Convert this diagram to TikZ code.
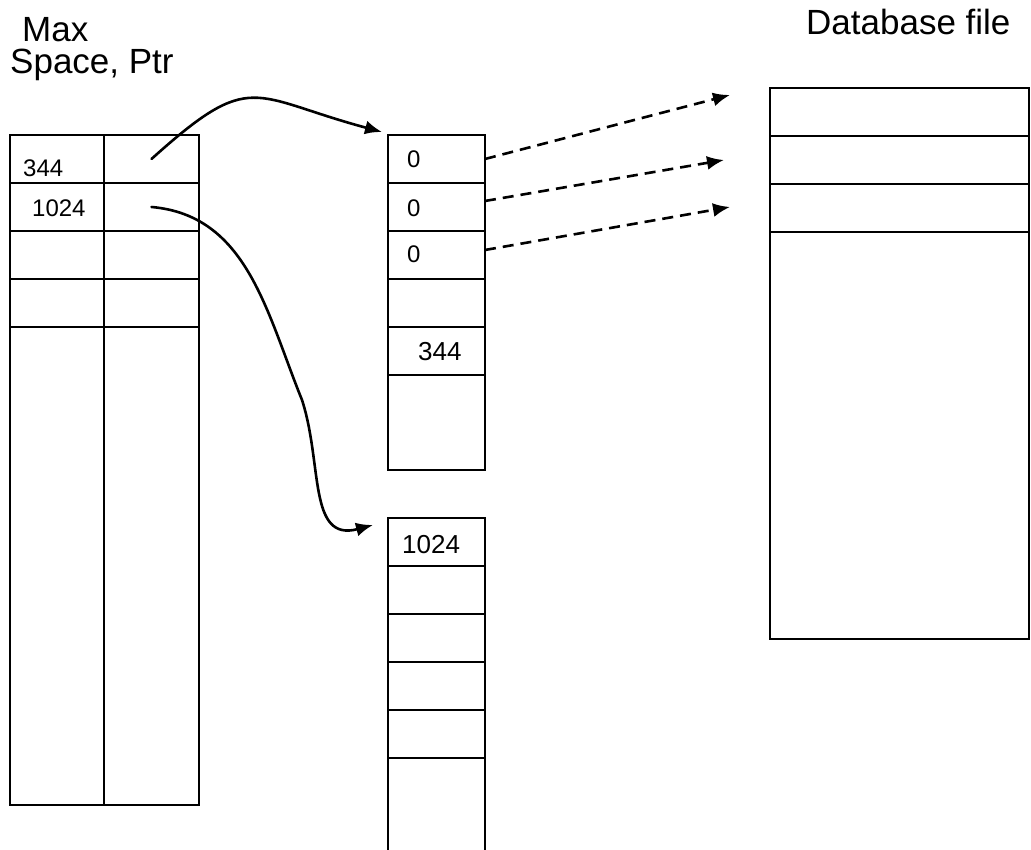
\documentclass[tikz,border=0pt]{standalone}
\usepackage{fontspec}
\setmainfont{Liberation Sans}
\usetikzlibrary{positioning, calc, arrows.meta}

\begin{document}
\begin{tikzpicture}[
    x=1pt, y=1pt,
    node distance=0pt,
    cell/.style={draw, line width=2.8pt, minimum width=95pt, minimum height=48pt, inner sep=0pt, outer sep=0pt},
    num/.style={font=\fontsize{24}{26}\selectfont, inner sep=0pt, anchor=base west},
    bignum/.style={num, font=\fontsize{26}{28}\selectfont},
    head/.style={font=\fontsize{35}{38}\selectfont, inner sep=0pt, anchor=base west},
    link/.style={line width=2.6pt, line cap=round, -{Latex[length=17pt, width=14pt]}},
    ref/.style={link, line cap=butt, dash pattern=on 11pt off 7pt}
]
\useasboundingbox (0,0) rectangle (1031,850);

\node[head] (max) at (22,808) {Max};
\node[head] (spaceptr) at (10,776) {Space, Ptr};
\node[head] (dbfile) at (806,815) {Database file};

% Max Space / Ptr table
\node[cell, minimum width=94pt, anchor=north west] (La1) at (10,715) {};
\node[cell, minimum width=94pt, below=of La1] (La2) {};
\node[cell, minimum width=94pt, below=of La2] (La3) {};
\node[cell, minimum width=94pt, below=of La3] (La4) {};
\node[cell, minimum width=94pt, minimum height=478pt, below=of La4] (La5) {};
\node[cell, right=of La1] (Lb1) {};
\node[cell, right=of La2] (Lb2) {};
\node[cell, right=of La3] (Lb3) {};
\node[cell, right=of La4] (Lb4) {};
\node[cell, minimum height=478pt, right=of La5] (Lb5) {};

\node[num] (k344) at ($(La1.north west)+(13,-42)$) {344};
\node[num] (k1024) at ($(La2.north west)+(22,-34)$) {1024};

% page at 344
\node[cell, minimum width=97pt, anchor=north west] (M1) at (388,715) {};
\node[cell, minimum width=97pt, below=of M1] (M2) {};
\node[cell, minimum width=97pt, below=of M2] (M3) {};
\node[cell, minimum width=97pt, below=of M3] (M4) {};
\node[cell, minimum width=97pt, below=of M4] (M5) {};
\node[cell, minimum width=97pt, minimum height=95pt, below=of M5] (M6) {};

\node[num] (z1) at ($(M1.north west)+(19,-33)$) {0};
\node[num] (z2) at ($(M2.north west)+(19,-34)$) {0};
\node[num] (z3) at ($(M3.north west)+(19,-32)$) {0};
\node[bignum] (s344) at ($(M5.north west)+(30,-34)$) {344};

% page at 1024
\node[cell, minimum width=97pt, anchor=north west] (W1) at (388,332) {};
\node[cell, minimum width=97pt, below=of W1] (W2) {};
\node[cell, minimum width=97pt, below=of W2] (W3) {};
\node[cell, minimum width=97pt, below=of W3] (W4) {};
\node[cell, minimum width=97pt, below=of W4] (W5) {};
\node[cell, minimum width=97pt, minimum height=120pt, below=of W5] (W6) {};

\node[bignum] (s1024) at ($(W1.north west)+(14,-36)$) {1024};

% database file
\node[cell, minimum width=259pt, anchor=north west] (D1) at (770,762) {};
\node[cell, minimum width=259pt, below=of D1] (D2) {};
\node[cell, minimum width=259pt, below=of D2] (D3) {};
\node[cell, minimum width=259pt, minimum height=407pt, below=of D3] (D4) {};

\coordinate (tipA) at ($(M1.north west)+(-6,3)$);
\coordinate (tipB) at ($(W1.north west)+(-15,-7)$);
\coordinate (bend) at (302,450);
\coordinate (dA) at (730,755);
\coordinate (dB) at (724,690);
\coordinate (dC) at (730,643);

\draw[link] (Lb1.center) to[out=42, in=165, looseness=1.5] (tipA);
\draw[link] (Lb2.center) to[out=-5, in=112] (bend) to[out=-72, in=195, looseness=1.2] (tipB);
\draw[ref] (M1.east) -- (dA);
\draw[ref] ([yshift=6pt]M2.east) -- (dB);
\draw[ref] ([yshift=5pt]M3.east) -- (dC);

\end{tikzpicture}
\end{document}
